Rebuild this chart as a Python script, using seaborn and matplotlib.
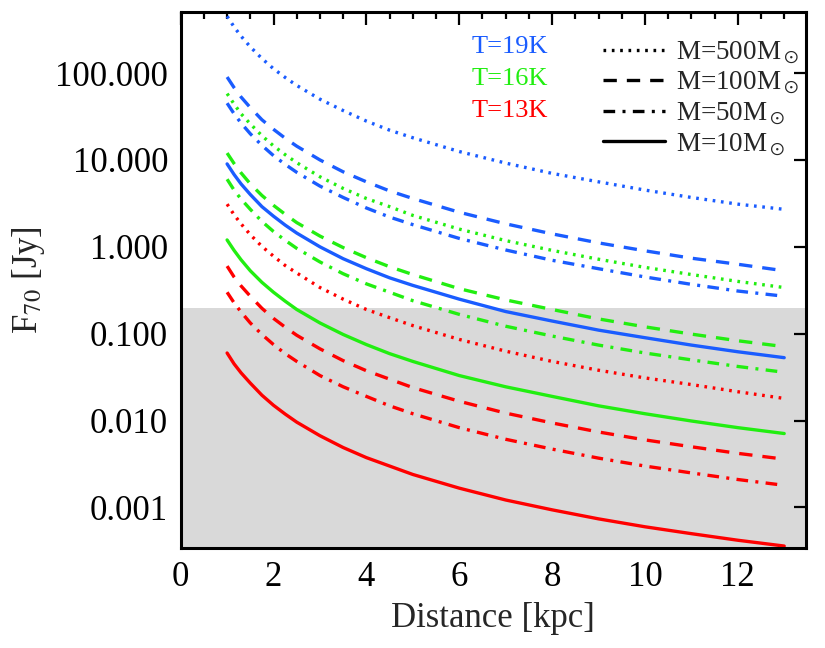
import numpy as np
import pandas as pd
import seaborn as sns
import matplotlib.pyplot as plt
from matplotlib.lines import Line2D
from matplotlib.ticker import FixedLocator, MultipleLocator, NullLocator

distance = [1, 1.15, 1.3, 1.5, 1.75, 2, 2.25, 2.5, 3, 3.5, 4, 4.5, 5, 6, 7, 8, 9, 10, 11, 12, 13]

# F70 [Jy] for each temperature / mass
t19_m500 = [450, 340, 266, 200, 147, 112, 89, 72, 50, 37, 28, 22, 18, 12.5, 9.2, 7.0, 5.6, 4.5, 3.7, 3.1, 2.7]
t19_m100 = [90, 68, 53, 40, 29, 22.5, 17.8, 14.4, 10, 7.3, 5.6, 4.4, 3.6, 2.5, 1.84, 1.41, 1.11, 0.90, 0.74, 0.63, 0.53]
t19_m50 = [45, 34, 26.6, 20, 14.7, 11.2, 8.9, 7.2, 5.0, 3.7, 2.8, 2.2, 1.8, 1.25, 0.92, 0.70, 0.56, 0.45, 0.37, 0.31, 0.27]
t19_m10 = [9.0, 6.8, 5.3, 4.0, 2.9, 2.25, 1.78, 1.44, 1.0, 0.73, 0.56, 0.44, 0.36, 0.25, 0.18, 0.14, 0.11, 0.090, 0.074, 0.062, 0.053]
t16_m500 = [58, 44, 34, 26, 19, 14.5, 11.5, 9.3, 6.4, 4.7, 3.6, 2.9, 2.3, 1.6, 1.18, 0.91, 0.72, 0.58, 0.48, 0.40, 0.34]
t16_m100 = [12, 9.1, 7.1, 5.3, 3.9, 3.0, 2.37, 1.9, 1.33, 0.98, 0.75, 0.59, 0.48, 0.33, 0.245, 0.19, 0.148, 0.12, 0.099, 0.083, 0.071]
t16_m50 = [6.0, 4.5, 3.55, 2.7, 1.96, 1.5, 1.19, 0.96, 0.67, 0.49, 0.375, 0.30, 0.24, 0.167, 0.122, 0.094, 0.074, 0.060, 0.050, 0.042, 0.036]
t16_m10 = [1.2, 0.91, 0.71, 0.53, 0.39, 0.30, 0.237, 0.19, 0.133, 0.098, 0.075, 0.059, 0.048, 0.033, 0.0245, 0.019, 0.0148, 0.012, 0.0099, 0.0083, 0.0071]
t13_m500 = [3.1, 2.34, 1.84, 1.38, 1.01, 0.78, 0.61, 0.50, 0.34, 0.25, 0.19, 0.153, 0.124, 0.086, 0.063, 0.048, 0.038, 0.031, 0.026, 0.0215, 0.018]
t13_m100 = [0.60, 0.45, 0.355, 0.27, 0.196, 0.15, 0.119, 0.096, 0.067, 0.049, 0.0375, 0.030, 0.024, 0.0167, 0.0122, 0.0094, 0.0074, 0.0060, 0.0050, 0.0042, 0.0036]
t13_m50 = [0.30, 0.227, 0.178, 0.133, 0.098, 0.075, 0.059, 0.048, 0.033, 0.0245, 0.019, 0.0148, 0.012, 0.0083, 0.0061, 0.0047, 0.0037, 0.0030, 0.0025, 0.0021, 0.0018]
t13_m10 = [0.060, 0.045, 0.0355, 0.027, 0.0196, 0.015, 0.0119, 0.0096, 0.0067, 0.0049, 0.00375, 0.0030, 0.0024, 0.00167, 0.00122, 0.00094, 0.00074, 0.00060, 0.00050, 0.00042, 0.00036]

temps = ['T=19K', 'T=16K', 'T=13K']
masses = ['M=500M$_\\odot$', 'M=100M$_\\odot$', 'M=50M$_\\odot$', 'M=10M$_\\odot$']
series = {
    ('T=19K', masses[0]): t19_m500, ('T=19K', masses[1]): t19_m100,
    ('T=19K', masses[2]): t19_m50, ('T=19K', masses[3]): t19_m10,
    ('T=16K', masses[0]): t16_m500, ('T=16K', masses[1]): t16_m100,
    ('T=16K', masses[2]): t16_m50, ('T=16K', masses[3]): t16_m10,
    ('T=13K', masses[0]): t13_m500, ('T=13K', masses[1]): t13_m100,
    ('T=13K', masses[2]): t13_m50, ('T=13K', masses[3]): t13_m10,
}
sensitivity = 0.2  # shaded region below this flux

rows = []
for (t, m), vals in series.items():
    for d, f in zip(distance, vals):
        rows.append({'d': d, 'F': f, 'T': t, 'M': m})
df = pd.DataFrame(rows)

sns.set_theme(style='white')
plt.rcParams['font.family'] = ['Liberation Serif', 'DejaVu Serif']
plt.rcParams['mathtext.fontset'] = 'stix'

palette = {'T=19K': '#1a5cff', 'T=16K': '#22ee11', 'T=13K': '#ff0000'}
dashes = {masses[0]: (0.8, 1.7), masses[1]: (4, 3),
          masses[2]: (3.5, 2.2, 0.9, 2.2), masses[3]: ''}

fig = plt.figure(figsize=(8.25, 6.48), dpi=100)
ax = fig.add_axes([0.219, 0.154, 0.758, 0.827])

ax.axhspan(1e-6, sensitivity, color='#d9d9d9', lw=0, zorder=0)
sns.lineplot(data=df, x='d', y='F', hue='T', style='M', palette=palette,
             dashes=dashes, linewidth=2.4, legend=False, ax=ax, zorder=2)

ax.set_yscale('log')
ax.set_xlim(0, 13.47)
ax.set_ylim(3.4e-4, 500)
ax.yaxis.set_major_locator(FixedLocator([1e-3, 1e-2, 1e-1, 1, 10, 100]))
ax.yaxis.set_minor_locator(NullLocator())
ax.set_yticklabels(['0.001', '0.010', '0.100', '1.000', '10.000', '100.000'])
ax.xaxis.set_major_locator(MultipleLocator(2))
ax.xaxis.set_minor_locator(MultipleLocator(0.5))

ax.tick_params(which='both', direction='in', top=True, right=True,
               width=1.6, labelsize=25, colors='black')
ax.tick_params(which='major', length=9, pad=9)
ax.tick_params(which='minor', length=5)
for s in ax.spines.values():
    s.set_linewidth(2.2)
    s.set_color('black')

ax.set_xlabel('Distance [kpc]', fontsize=25, labelpad=6)
ax.set_ylabel('F$_{70}$ [Jy]', fontsize=25, labelpad=6)

for i, t in enumerate(temps):
    ax.text(0.465, 0.935 - i * 0.06, t, transform=ax.transAxes, fontsize=19,
            color=palette[t], ha='left', va='center')

handles = [Line2D([], [], color='black', lw=2.4, dashes=dashes[m]) if dashes[m]
           else Line2D([], [], color='black', lw=2.4) for m in masses]
ax.legend(handles, masses, loc='upper right', bbox_to_anchor=(1.028, 0.995),
          frameon=False, fontsize=19.5, handlelength=2.3, labelspacing=0.15,
          handletextpad=0.4)

fig.savefig('out.png', dpi=100)
